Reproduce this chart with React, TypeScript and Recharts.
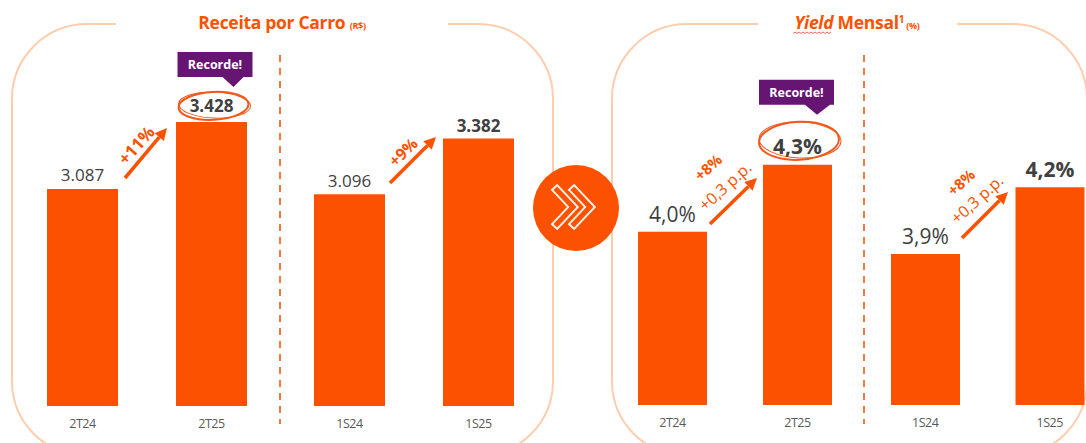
import React from "react";
import { BarChart, Bar, XAxis, YAxis, LabelList } from "recharts";

// Receita por Carro (R$)
const carroTriPeriods = ["2T24", "2T25"];
const carroTriValues = [3087, 3428];
const carroSemPeriods = ["1S24", "1S25"];
const carroSemValues = [3096, 3382];

// Yield Mensal (%)
const yieldTriPeriods = ["2T24", "2T25"];
const yieldTriValues = [4.0, 4.3];
const yieldSemPeriods = ["1S24", "1S25"];
const yieldSemValues = [3.9, 4.2];

const growthLabels = ["+11%", "+9%", "+8%", "+8%"];
const ppLabels = ["", "", "+0,3 p.p.", "+0,3 p.p."];

const ORANGE = "#FC5200";
const PEACH = "#FDCDAE";
const PURPLE = "#661672";
const DARK = "#404040";
const FONT = "'Open Sans', 'DejaVu Sans', sans-serif";

const fmtCarro = (v: number) => `${Math.floor(v / 1000)}.${String(v % 1000).padStart(3, "0")}`;
const fmtYield = (v: number) => `${v.toFixed(1).replace(".", ",")}%`;

type RecordCfg = {
  ring: { dx: number; dy: number; rx: number; ry: number };
  box: { x0: number; x1: number; top: number; bottom: number; b0: number; b1: number; tipX: number; tipY: number };
  lift: number;
};

type HalfProps = {
  periods: string[];
  values: number[];
  domain: [number, number];
  left: number;
  width: number;
  barSize: number;
  bottom: number;
  fontSize: number;
  lift: number;
  format: (v: number) => string;
  record?: RecordCfg;
};

function makeLabel(p: HalfProps) {
  return (props: any) => {
    const { x, y, width, value, index } = props;
    const cx = Number(x) + Number(width) / 2;
    const top = Number(y);
    const latest = index === 1;
    const rec = latest && p.record;
    const base = top - (rec ? p.record!.lift : p.lift);
    return (
      <g>
        {rec && (
          <g>
            <ellipse
              cx={cx + p.record!.ring.dx}
              cy={top + p.record!.ring.dy}
              rx={p.record!.ring.rx}
              ry={p.record!.ring.ry}
              fill="none"
              stroke="#F2581A"
              strokeWidth={2}
              transform={`rotate(-3 ${cx} ${top + p.record!.ring.dy})`}
            />
            <ellipse
              cx={cx + p.record!.ring.dx + 1}
              cy={top + p.record!.ring.dy - 1}
              rx={p.record!.ring.rx + 1}
              ry={p.record!.ring.ry - 1}
              fill="none"
              stroke="#F2581A"
              strokeWidth={1}
              transform={`rotate(2 ${cx} ${top + p.record!.ring.dy})`}
            />
            <path
              d={`M${cx + p.record!.box.x0},${top + p.record!.box.top} H${cx + p.record!.box.x1} V${top + p.record!.box.bottom} H${cx + p.record!.box.b1} L${cx + p.record!.box.tipX},${top + p.record!.box.tipY} L${cx + p.record!.box.b0},${top + p.record!.box.bottom} H${cx + p.record!.box.x0} Z`}
              fill={PURPLE}
            />
            <text
              x={cx + (p.record!.box.x0 + p.record!.box.x1) / 2}
              y={top + (p.record!.box.top + p.record!.box.bottom) / 2 + 4.5}
              textAnchor="middle"
              fontFamily={FONT}
              fontWeight={700}
              fontSize={12.5}
              fill="#fff"
            >
              Recorde!
            </text>
          </g>
        )}
        <text
          x={cx}
          y={base}
          textAnchor="middle"
          fontFamily={FONT}
          fontSize={p.fontSize}
          fontWeight={latest ? 700 : 400}
          fill={DARK}
        >
          {p.format(Number(value))}
        </text>
      </g>
    );
  };
}

function Half(p: HalfProps) {
  const data = p.periods.map((period, i) => ({ period, value: p.values[i] }));
  return (
    <div style={{ position: "absolute", left: p.left, top: 0 }}>
      <BarChart width={p.width} height={443} data={data} margin={{ top: 40, right: 0, bottom: p.bottom, left: 0 }}>
        <XAxis
          dataKey="period"
          axisLine={false}
          tickLine={false}
          tickSize={0}
          tickMargin={13}
          height={30}
          tick={{ fontSize: 12.5, fill: "#595959", fontFamily: FONT, letterSpacing: -0.5 }}
        />
        <YAxis hide type="number" domain={p.domain} allowDataOverflow />
        <Bar dataKey="value" fill={ORANGE} barSize={p.barSize} isAnimationActive={false}>
          <LabelList dataKey="value" content={makeLabel(p)} />
        </Bar>
      </BarChart>
    </div>
  );
}

function Arrow({ x1, y1, x2, y2 }: { x1: number; y1: number; x2: number; y2: number }) {
  const a = Math.atan2(y2 - y1, x2 - x1);
  const len = 12;
  const wid = 6;
  const bx = x2 - len * Math.cos(a);
  const by = y2 - len * Math.sin(a);
  const px = -Math.sin(a) * wid;
  const py = Math.cos(a) * wid;
  return (
    <g>
      <line x1={x1} y1={y1} x2={bx} y2={by} stroke={ORANGE} strokeWidth={3.5} />
      <path d={`M${x2},${y2} L${bx + px},${by + py} L${bx - px},${by - py} Z`} fill={ORANGE} />
    </g>
  );
}

function RotText({ x, y, angle, size, bold, children }: any) {
  return (
    <text
      x={x}
      y={y}
      textAnchor="middle"
      dominantBaseline="central"
      transform={`rotate(${angle} ${x} ${y})`}
      fontFamily={FONT}
      fontSize={size}
      fontWeight={bold ? 700 : 400}
      fill={ORANGE}
    >
      {children}
    </text>
  );
}

export default function App() {
  return (
    <div style={{ position: "absolute", left: 0, top: 0, width: 1086, height: 443, overflow: "hidden", background: "#fff" }}>
      <svg width={1086} height={443} style={{ position: "absolute", left: 0, top: 0 }}>
        <rect x={12} y={24} width={541} height={432} rx={75} ry={75} fill="none" stroke={PEACH} strokeWidth={2} />
        <rect x={612} y={24} width={475} height={432} rx={75} ry={75} fill="none" stroke={PEACH} strokeWidth={2} />
        <rect x={116} y={10} width={332} height={28} fill="#fff" />
        <rect x={758} y={10} width={199} height={28} fill="#fff" />
        <line x1={280} y1={55} x2={280} y2={424} stroke="#F27A3C" strokeWidth={2} strokeDasharray="7 6" />
        <line x1={864} y1={55} x2={864} y2={424} stroke="#F27A3C" strokeWidth={2} strokeDasharray="7 6" />
        <text x={282} y={29} textAnchor="middle" fontFamily={FONT} fontWeight={700} fill={ORANGE} letterSpacing={-0.3}>
          <tspan fontSize={17.5}>Receita por Carro </tspan>
          <tspan fontSize={9}>(R$)</tspan>
        </text>
        <text x={857} y={29} textAnchor="middle" fontFamily={FONT} fontWeight={700} fill={ORANGE} letterSpacing={-0.3}>
          <tspan fontSize={17.5} fontStyle="italic">Yield</tspan>
          <tspan fontSize={17.5}> Mensal</tspan>
          <tspan fontSize={10} dy={-6}>1</tspan>
          <tspan fontSize={9} dy={6}> (%)</tspan>
        </text>
        <path
          d="M793,33.5 l2,-1.5 l2,1.5 l2,-1.5 l2,1.5 l2,-1.5 l2,1.5 l2,-1.5 l2,1.5 l2,-1.5 l2,1.5 l2,-1.5 l2,1.5 l2,-1.5 l2,1.5 l2,-1.5 l2,1.5 l2,-1.5 l2,1.5 l2,-1.5"
          fill="none"
          stroke="#E0453C"
          strokeWidth={0.8}
        />
      </svg>

      <Half
        periods={carroTriPeriods}
        values={carroTriValues}
        domain={[1983, 3845]}
        left={17.5}
        width={258}
        barSize={71}
        bottom={7}
        fontSize={17}
        lift={8}
        format={fmtCarro}
        record={{
          ring: { dx: 2, dy: -16, rx: 35, ry: 14 },
          box: { x0: -34, x1: 41, top: -70, bottom: -45, b0: 11, b1: 32, tipX: 22, tipY: -35 },
          lift: 10,
        }}
      />
      <Half
        periods={carroSemPeriods}
        values={carroSemValues}
        domain={[2008, 3888]}
        left={285}
        width={258}
        barSize={71}
        bottom={7}
        fontSize={17}
        lift={7}
        format={fmtCarro}
      />
      <Half
        periods={yieldTriPeriods}
        values={yieldTriValues}
        domain={[3.223, 4.86]}
        left={610}
        width={250}
        barSize={69}
        bottom={8}
        fontSize={21}
        lift={10}
        format={fmtYield}
        record={{
          ring: { dx: 1.5, dy: -24, rx: 40, ry: 19 },
          box: { x0: -38.5, x1: 36.5, top: -85, bottom: -60, b0: 7.5, b1: 32.5, tipX: 19.5, tipY: -50 },
          lift: 11,
        }}
      />
      <Half
        periods={yieldSemPeriods}
        values={yieldSemValues}
        domain={[3.223, 4.86]}
        left={863}
        width={249}
        barSize={69}
        bottom={8}
        fontSize={21}
        lift={10}
        format={fmtYield}
      />

      <svg width={1086} height={443} style={{ position: "absolute", left: 0, top: 0, pointerEvents: "none" }}>
        <Arrow x1={125} y1={178} x2={167} y2={128} />
        <RotText x={136} y={145} angle={-48} size={17} bold>{growthLabels[0]}</RotText>
        <Arrow x1={390} y1={183} x2={436} y2={137} />
        <RotText x={403} y={152} angle={-44} size={16} bold>{growthLabels[1]}</RotText>
        <Arrow x1={710} y1={224} x2={757} y2={178} />
        <RotText x={708} y={167} angle={-42} size={15} bold>{growthLabels[2]}</RotText>
        <RotText x={725} y={186} angle={-42} size={16}>{ppLabels[2]}</RotText>
        <Arrow x1={962} y1={238} x2={1008} y2={192} />
        <RotText x={961} y={182} angle={-42} size={15} bold>{growthLabels[3]}</RotText>
        <RotText x={977} y={199} angle={-42} size={16}>{ppLabels[3]}</RotText>

        <circle cx={576} cy={208} r={43} fill={ORANGE} />
        <g fill="none" strokeLinejoin="miter" strokeLinecap="square">
          <path d="M557,190 L573,207 L557,224" stroke="#FFF1E8" strokeWidth={9} />
          <path d="M574,190 L590,207 L574,224" stroke="#FFF1E8" strokeWidth={9} />
          <path d="M557,190 L573,207 L557,224" stroke={ORANGE} strokeWidth={5} />
          <path d="M574,190 L590,207 L574,224" stroke={ORANGE} strokeWidth={5} />
        </g>
      </svg>
    </div>
  );
}
